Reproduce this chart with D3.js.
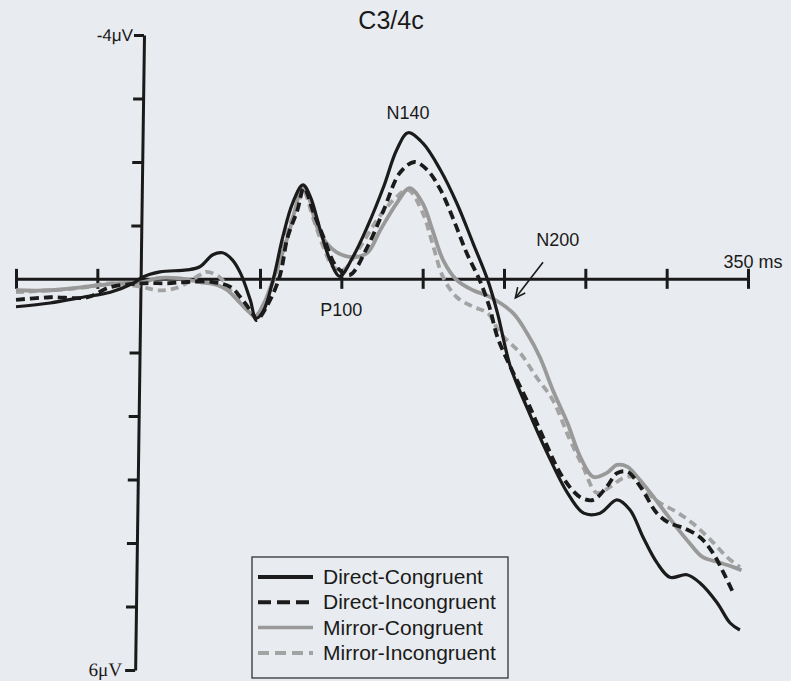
<!DOCTYPE html>
<html>
<head>
<meta charset="utf-8">
<script src="https://cdn.jsdelivr.net/npm/d3@7"></script>
<style>
  html, body { margin: 0; padding: 0; background: #e8ebef; }
  svg { display: block; }
  text { font-family: "Liberation Sans", Arial, sans-serif; fill: #1a1a1a; }
</style>
</head>
<body>
<svg id="chart" width="791" height="681"></svg>
<script>
// ---------- data (time in ms, amplitude in µV; negative plotted up) ----------
const seriesNames = ["Direct-Congruent", "Direct-Incongruent", "Mirror-Congruent", "Mirror-Incongruent"];

const directCongruent = [
  [-100,0.28],[-79,0.22],[-59,0.13],[-42,0.05],[-28,-0.09],[-22,-0.19],[-11.5,-0.27],[5,-0.30],
  [13,-0.35],[21,-0.54],[27,-0.57],[33,-0.46],[38,-0.25],[44,0.17],[47.5,0.46],[52,0.35],[58,-0.14],
  [64,-0.82],[70,-1.35],[76.4,-1.64],[81,-1.45],[87,-0.93],[93,-0.46],[99,-0.20],[107,-0.50],
  [116,-0.98],[126,-1.61],[134,-2.19],[141,-2.46],[150,-2.30],[161,-1.87],[171,-1.35],[181,-0.72],
  [190,-0.14],[196,0.38],[204,1.23],[214,1.86],[226.5,2.58],[239,3.21],[249,3.53],[259,3.53],
  [269.5,3.32],[277.5,3.48],[285.5,3.91],[294,4.31],[302,4.54],[312.5,4.50],[320.5,4.63],
  [331,4.94],[339,5.26],[345,5.37]
];
const directIncongruent = [
  [-100,0.17],[-79,0.13],[-56,0.13],[-42,-0.03],[-22,-0.09],[-7,-0.09],[5,-0.11],[21,-0.11],
  [32,-0.03],[38,0.13],[46,0.41],[48,0.49],[54,0.28],[62,-0.19],[67,-0.82],[73,-1.24],[77,-1.59],
  [83,-1.20],[89,-0.82],[97,-0.35],[105,-0.22],[116,-0.66],[126,-1.24],[136,-1.83],[145,-2.00],
  [153,-1.87],[161,-1.56],[169,-1.09],[177,-0.57],[185,-0.14],[191,0.28],[196,0.76],[204,1.23],
  [214,1.75],[224,2.33],[236,2.96],[247,3.28],[255,3.32],[263,3.12],[269.5,2.90],[276,2.88],
  [284,3.12],[294,3.53],[302,3.69],[310,3.76],[320.5,3.91],[328.5,4.16],[335,4.47],[341,4.79]
];
const mirrorCongruent = [
  [-100,0.02],[-79,0.02],[-59,-0.03],[-38,-0.09],[-22,-0.11],[-13,-0.17],[-1,-0.17],[13,-0.11],
  [24,-0.06],[30,0.02],[36,0.17],[42,0.33],[47,0.43],[52,0.25],[58,-0.14],[67,-0.82],[73,-1.40],
  [75,-1.61],[79,-1.51],[85,-0.98],[91,-0.72],[97,-0.58],[107,-0.50],[116,-0.57],[124,-0.93],
  [134,-1.35],[142,-1.59],[150,-1.35],[156,-0.93],[162.5,-0.46],[171,-0.14],[181,0.02],[191,0.12],
  [205.6,0.38],[214,0.69],[222,1.07],[230,1.59],[239,2.11],[247,2.65],[255,2.96],
  [263,2.90],[269.5,2.77],[276,2.80],[282,2.96],[290,3.21],[298,3.48],[306,3.75],[314,4.00],
  [322,4.22],[333,4.31],[341,4.38],[346,4.43]
];
const mirrorIncongruent = [
  [-100,0.05],[-59,-0.02],[-42,-0.09],[-22,-0.03],[-13,0.02],[-1,-0.02],[13,-0.22],[17,-0.27],
  [25,-0.19],[33,0.06],[42,0.33],[47,0.43],[53,0.20],[60.5,-0.30],[67,-0.93],[73,-1.29],[76.5,-1.56],
  [83,-1.09],[89,-0.66],[95,-0.35],[101,-0.30],[111.5,-0.66],[122,-1.09],[132,-1.40],[141,-1.56],
  [150,-1.20],[156,-0.72],[162.5,-0.19],[171,0.13],[181,0.28],[190,0.38],[197.5,0.69],[210,1.01],
  [220,1.39],[230,1.75],[240.6,2.38],[248.6,2.80],[257,3.21],[265,3.12],[273,2.98],[279,2.96],
  [288,3.21],[296,3.37],[306,3.51],[316,3.69],[327,3.95],[337,4.22],[345,4.38]
];

const xTickValues = [-100, -50, 50, 100, 150, 200, 250, 300, 350];
const yTickValues = [-4, -3, -2, -1, 1, 2, 3, 4, 5, 6];
const yAxisTime = -23.4;      // time at which the amplitude axis is drawn
const xAxisAmp = -0.16;       // amplitude at which the time axis is drawn
const title = "C3/4c";
const yTopLabel = "-4\u03BCV";
const yBottomLabel = "6\u03BCV";
const xEndLabel = "350 ms";
const peakLabels = [
  { text: "N140", t: 141, v: -2.67 },
  { text: "P100", t: 100, v: 0.43 }
];

// ---------- drawing ----------
const svg = d3.select("#chart");
const x = d3.scaleLinear().domain([-100, 350]).range([16, 748]);
const y = d3.scaleLinear().domain([-4, 6]).range([35, 670]);

const ax0 = x(yAxisTime);
const ay0 = y(xAxisAmp);

// time axis
const xAxisG = svg.append("g")
  .attr("transform", `translate(0,${ay0})`)
  .call(d3.axisBottom(x).tickValues(xTickValues).tickFormat("").tickSizeOuter(0));
xAxisG.select(".domain").attr("stroke", "#1a1a1a").attr("stroke-width", 3);
xAxisG.selectAll(".tick line").attr("y1", -10).attr("y2", 10)
  .attr("stroke", "#1a1a1a").attr("stroke-width", 3);

// amplitude axis (slightly slanted like the photographed page)
const yWrap = svg.append("g")
  .attr("transform", `translate(0,${ay0}) skewX(-0.8) translate(0,${-ay0})`);
const yAxisG = yWrap.append("g")
  .attr("transform", `translate(${ax0},0)`)
  .call(d3.axisLeft(y).tickValues(yTickValues).tickFormat("").tickSize(10).tickSizeOuter(0));
yAxisG.select(".domain").attr("stroke", "#1a1a1a").attr("stroke-width", 3);
yAxisG.selectAll(".tick line").attr("stroke", "#1a1a1a").attr("stroke-width", 3);

// axis labels
yWrap.append("text").attr("x", ax0 - 11).attr("y", y(-4) + 6)
  .attr("text-anchor", "end").attr("font-size", 17).text(yTopLabel);
yWrap.append("text").attr("x", ax0 - 13).attr("y", y(6) + 6)
  .attr("text-anchor", "end").attr("font-size", 19)
  .style("font-family", "'Liberation Serif', 'Times New Roman', serif").text(yBottomLabel);
svg.append("text").attr("x", x(350) + 5).attr("y", ay0 - 11)
  .attr("text-anchor", "middle").attr("font-size", 18).text(xEndLabel);

// title
svg.append("text").attr("x", 391).attr("y", 29)
  .attr("text-anchor", "middle").attr("font-size", 25).text(title);

// waveforms
const styles = [
  { data: directCongruent,   color: "#1b1b1b", width: 3.2, dash: null },
  { data: directIncongruent, color: "#1b1b1b", width: 3.8, dash: "9,5" },
  { data: mirrorCongruent,   color: "#999999", width: 3.8, dash: null },
  { data: mirrorIncongruent, color: "#a3a3a3", width: 3.8, dash: "8,5" }
];
const line = d3.line().x(d => x(d[0])).y(d => y(d[1])).curve(d3.curveCatmullRom.alpha(0.5));
const drawOrder = [3, 2, 1, 0];
drawOrder.forEach(i => {
  const s = styles[i];
  svg.append("path").attr("d", line(s.data))
    .attr("fill", "none").attr("stroke", s.color).attr("stroke-width", s.width)
    .attr("stroke-linejoin", "round")
    .attr("stroke-dasharray", s.dash);
});

// peak labels
peakLabels.forEach(p => {
  svg.append("text").attr("x", x(p.t)).attr("y", y(p.v))
    .attr("text-anchor", "middle").attr("font-size", 18).text(p.text);
});

// N200 label and arrow
const n200 = { t: 233, v: -0.67, tipT: 207, tipV: 0.14, tailT: 224, tailV: -0.42 };
svg.append("text").attr("x", x(n200.t)).attr("y", y(n200.v))
  .attr("text-anchor", "middle").attr("font-size", 18).text("N200");
const tipX = x(n200.tipT), tipY = y(n200.tipV), tailX = x(n200.tailT), tailY = y(n200.tailV);
svg.append("line").attr("x1", tailX).attr("y1", tailY).attr("x2", tipX).attr("y2", tipY)
  .attr("stroke", "#1a1a1a").attr("stroke-width", 1.6);
const ang = Math.atan2(tipY - tailY, tipX - tailX);
const hl = 11, ha = 0.45;
svg.append("path")
  .attr("d", `M${tipX - hl * Math.cos(ang - ha)},${tipY - hl * Math.sin(ang - ha)} L${tipX},${tipY} L${tipX - hl * Math.cos(ang + ha)},${tipY - hl * Math.sin(ang + ha)}`)
  .attr("fill", "none").attr("stroke", "#1a1a1a").attr("stroke-width", 1.6);

// legend
const lg = svg.append("g").attr("transform", "translate(252,557)");
lg.append("rect").attr("width", 256).attr("height", 121)
  .attr("fill", "none").attr("stroke", "#333").attr("stroke-width", 1.3);
const legendDash = [null, "13,6", null, "11,6"];
seriesNames.forEach((name, i) => {
  const yy = 20 + i * 25.3;
  lg.append("line").attr("x1", 6).attr("x2", 61).attr("y1", yy).attr("y2", yy)
    .attr("stroke", styles[i].color).attr("stroke-width", i === 2 ? 3.5 : 4)
    .attr("stroke-dasharray", legendDash[i]);
  lg.append("text").attr("x", 71).attr("y", yy + 7).attr("font-size", 21).text(name);
});
</script>
</body>
</html>
